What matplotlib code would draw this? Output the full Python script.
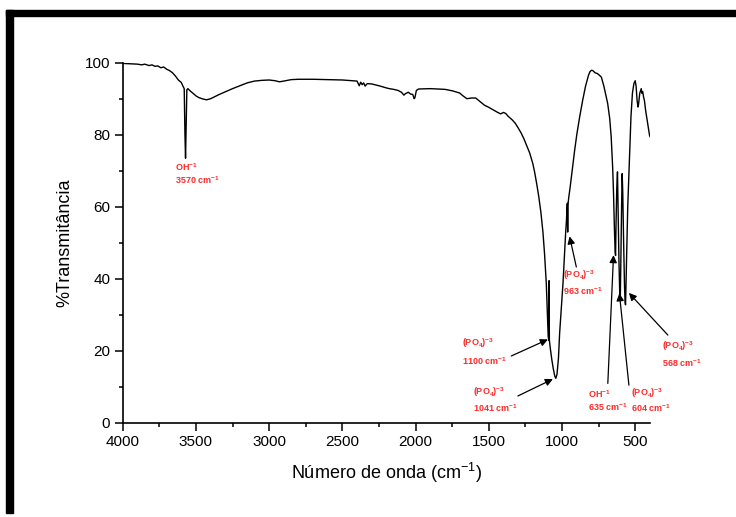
import matplotlib
matplotlib.use("Agg")
import matplotlib.pyplot as plt
from matplotlib.patches import Rectangle
from matplotlib.ticker import MultipleLocator

plt.rcParams['font.family'] = ['Liberation Sans', 'DejaVu Sans']

# ---- data ----
wavenumber = [4000, 3950, 3900, 3870, 3850, 3820, 3800, 3780, 3760, 3740, 3720, 3700,
              3680, 3660, 3640, 3620, 3600, 3590, 3580, 3575, 3571, 3567, 3562, 3555,
              3540, 3520, 3500, 3480, 3450, 3427, 3400, 3370, 3340, 3300, 3250, 3200,
              3150, 3100, 3050, 3000, 2960, 2930, 2900, 2850, 2800, 2700, 2600, 2500,
              2430, 2400, 2385, 2375, 2365, 2355, 2345, 2330, 2300, 2250, 2200, 2180,
              2150, 2120, 2097, 2080, 2070, 2050, 2035, 2020, 2010, 2005, 1995, 1980,
              1900, 1800, 1750, 1700, 1680, 1650, 1620, 1590, 1560, 1530, 1500, 1470,
              1440, 1420, 1400, 1385, 1370, 1340, 1320, 1300, 1280, 1260, 1240, 1222,
              1200, 1188, 1174, 1160, 1145, 1131, 1120, 1108, 1100, 1095, 1091, 1089,
              1087, 1080, 1070, 1060, 1050, 1043, 1035, 1025, 1017, 1005, 994, 985,
              976, 970, 966, 964, 962, 960, 955, 945, 930, 915, 900, 880, 860, 840,
              820, 810, 800, 790, 775, 760, 745, 732, 715, 700, 689, 675, 665, 655,
              649, 643, 638, 635, 632, 627, 622, 618, 612, 606, 603, 600, 594, 590,
              586, 580, 574, 570, 567, 564, 560, 552, 545, 540, 530, 520, 510, 501,
              495, 488, 482, 478, 470, 460, 455, 450, 444, 438, 430, 425, 415, 403, 400]
transmittance = [99.8, 99.7, 99.6, 99.4, 99.6, 99.2, 99.4, 99.0, 99.1, 98.6, 98.8, 98.2,
                 97.8, 97.2, 96.3, 95.2, 94.5, 93.6, 92.8, 80.0, 73.5, 82.0, 92.5, 92.8,
                 92.2, 91.5, 90.8, 90.3, 89.9, 89.7, 90.0, 90.6, 91.2, 91.9, 92.8, 93.6,
                 94.4, 94.9, 95.1, 95.2, 95.0, 94.7, 94.9, 95.3, 95.4, 95.4, 95.3, 95.2,
                 95.0, 94.9, 93.6, 94.6, 93.9, 94.4, 93.5, 94.2, 94.1, 93.6, 93.0, 92.8,
                 92.6, 92.3, 91.8, 91.0, 91.4, 91.8, 91.3, 91.2, 90.0, 90.3, 92.3, 92.7,
                 92.8, 92.6, 92.2, 91.6, 90.9, 90.0, 90.2, 90.2, 89.2, 88.2, 87.6, 86.9,
                 86.2, 85.8, 86.2, 85.9, 85.2, 84.1, 83.2, 81.9, 80.5, 78.8, 76.8, 75.0,
                 72.0, 69.7, 66.5, 63.0, 58.5, 53.0, 47.0, 38.7, 30.0, 24.0, 23.0, 39.5,
                 23.0, 20.5, 17.5, 15.0, 13.0, 12.4, 13.5, 18.0, 24.9, 32.0, 38.8, 46.0,
                 52.7, 56.5, 60.5, 61.0, 53.0, 60.5, 62.5, 65.5, 70.5, 75.5, 80.0, 85.0,
                 89.5, 93.5, 96.5, 97.5, 97.9, 97.8, 97.2, 97.0, 96.5, 96.0, 93.5, 90.8,
                 88.7, 84.5, 79.4, 71.0, 63.7, 54.0, 47.5, 46.5, 55.0, 65.0, 69.7, 60.0,
                 45.0, 35.0, 34.3, 42.0, 60.0, 69.2, 64.0, 50.0, 38.0, 33.5, 32.8, 38.0,
                 45.2, 60.0, 68.0, 72.9, 85.0, 91.5, 94.2, 95.0, 93.5, 89.5, 87.7, 88.5,
                 91.5, 92.8, 91.5, 92.0, 90.5, 89.5, 86.8, 85.5, 83.0, 79.8, 79.5]

x_ticks = [4000, 3500, 3000, 2500, 2000, 1500, 1000, 500]
y_ticks = [0, 20, 40, 60, 80, 100]

# annotation labels: species line, band line, text x, text y (two lines), arrow start, arrow tip
SUP1 = "$^{\\mathbf{-1}}$"
SUP3 = "$^{\\mathbf{-3}}$"
PO4 = "(PO$_\\mathbf{4}$)" + SUP3
ann_species = ["OH" + SUP1, PO4, PO4, PO4, "OH" + SUP1, PO4, PO4]
ann_band = ["3570 cm" + SUP1, "1100 cm" + SUP1, "1041 cm" + SUP1, "963 cm" + SUP1,
            "635 cm" + SUP1, "604 cm" + SUP1, "568 cm" + SUP1]
ann_text_x = [3643, 1681, 1608, 995, 824, 528, 317]
ann_text_y1 = [71.0, 22.1, 8.7, 41.0, 8.0, 8.2, 21.2]
ann_text_y2 = [67.4, 17.3, 4.2, 36.7, 4.5, 4.1, 16.7]
arrow_from = [None, (1347, 18.6), (1302, 7.5), (903, 43.3), (688, 11.0), (544, 10.5), (278, 24.4)]
arrow_to = [None, (1097, 23.2), (1063, 12.2), (949, 51.8), (649, 46.6), (609, 36.0), (544, 36.1)]

red = "#ff2a2a"

plt.rcParams['mathtext.fontset'] = 'custom'
plt.rcParams['mathtext.rm'] = 'Liberation Sans'
plt.rcParams['mathtext.bf'] = 'Liberation Sans:bold'

fig = plt.figure(figsize=(7.36, 5.17), dpi=100)
ax = fig.add_axes([122.7 / 736, 1 - 423 / 517, (650 - 122.7) / 736, (423 - 62.7) / 517])

ax.plot(wavenumber, transmittance, color="black", lw=1.0)

ax.set_xlim(4000, 400)
ax.set_ylim(0, 100)
ax.set_xticks(x_ticks)
ax.set_yticks(y_ticks)
ax.xaxis.set_minor_locator(MultipleLocator(250))
ax.yaxis.set_minor_locator(MultipleLocator(10))
ax.tick_params(which="major", direction="out", length=6, width=1.1, labelsize=11, pad=3)
ax.tick_params(which="minor", direction="out", length=3, width=1.1)
for s in ["top", "right"]:
    ax.spines[s].set_visible(False)
for s in ["left", "bottom"]:
    ax.spines[s].set_linewidth(1.2)

ax.set_xlabel("Número de onda (cm$^{\\mathrm{-1}}$)", fontsize=13, labelpad=8)
ax.set_ylabel("%Transmitância", fontsize=13, labelpad=8)

for sp, bd, tx, ty1, ty2, a0, a1 in zip(ann_species, ann_band, ann_text_x, ann_text_y1,
                                        ann_text_y2, arrow_from, arrow_to):
    ax.text(tx, ty1, sp, color=red, fontsize=6.5, fontweight="bold", ha="left", va="center",
            clip_on=False)
    ax.text(tx, ty2, bd, color=red, fontsize=6.5, fontweight="bold", ha="left", va="center",
            clip_on=False)
    if a0 is not None:
        ax.annotate("", xy=a1, xytext=a0, annotation_clip=False,
                    arrowprops=dict(arrowstyle="-|>", color="black", lw=0.9,
                                    mutation_scale=11, shrinkA=0, shrinkB=0))

# thick frame at top and left
fig.patches.append(Rectangle((6 / 736, 1 - 16 / 517), 1.0, 6 / 517, transform=fig.transFigure,
                             color="black", zorder=10))
fig.patches.append(Rectangle((6 / 736, 1 - 513 / 517), 7 / 736, (513 - 10) / 517,
                             transform=fig.transFigure, color="black", zorder=10))

fig.savefig("out.png", dpi=100)
